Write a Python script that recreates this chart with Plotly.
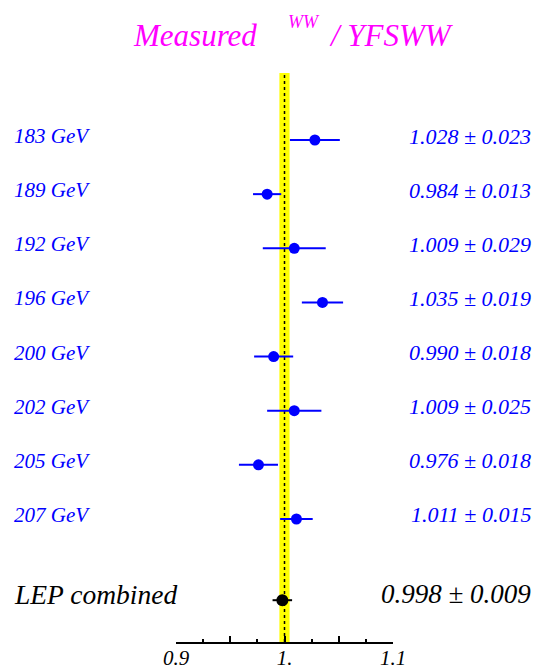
import plotly.graph_objects as go

energies = ["183 GeV", "189 GeV", "192 GeV", "196 GeV", "200 GeV", "202 GeV", "205 GeV", "207 GeV"]
ratios = [1.028, 0.984, 1.009, 1.035, 0.990, 1.009, 0.976, 1.011]
errors = [0.023, 0.013, 0.029, 0.019, 0.018, 0.025, 0.018, 0.015]
comb_label = "LEP combined"
comb_value = 0.998
comb_error = 0.009
band_half = 0.0047
tick_vals = [0.9, 0.95, 1.0, 1.05, 1.1]
tick_text = ["0.9", "", "1.", "", "1.1"]

ypos = [8 - i for i in range(len(energies))]
y_comb = -0.5

FONT = "Liberation Serif"
W, H = 539, 672
L, R, T, B = 176, 146, 73, 30
pw, ph = W - L - R, H - T - B

def px2paper_x(px):
    return (px - L) / pw

def px2paper_y(py):
    return (H - B - py) / ph

fig = go.Figure()

fig.add_trace(go.Scatter(
    x=ratios, y=ypos, mode="markers",
    marker=dict(color="#0000ff", size=11),
    error_x=dict(type="data", array=errors, color="#0000ff", thickness=2, width=0),
    showlegend=False, cliponaxis=False,
))
fig.add_trace(go.Scatter(
    x=[comb_value], y=[y_comb], mode="markers",
    marker=dict(color="black", size=12),
    error_x=dict(type="data", array=[comb_error], color="black", thickness=2, width=0),
    showlegend=False, cliponaxis=False,
))

shapes = [
    dict(type="rect", xref="x", yref="paper", x0=1.0 - band_half, x1=1.0 + band_half,
         y0=0, y1=1, fillcolor="#ffff00", line=dict(width=0), layer="below"),
    dict(type="line", xref="x", yref="paper", x0=1.0, x1=1.0, y0=0, y1=1,
         line=dict(color="black", width=1.5, dash="3px,3px"), layer="below"),
]

annotations = []
for lab, v, e, y in zip(energies, ratios, errors, ypos):
    annotations.append(dict(text=lab, xref="paper", yref="y", x=px2paper_x(12), y=y,
                            xanchor="left", yanchor="middle", yshift=4, showarrow=False,
                            font=dict(family=FONT, size=21, color="#0000ff", style="italic")))
    annotations.append(dict(text=f"{v:.3f} ± {e:.3f}", xref="paper", yref="y", x=px2paper_x(533), y=y,
                            xanchor="right", yanchor="middle", yshift=4, showarrow=False,
                            font=dict(family=FONT, size=22, color="#0000ff", style="italic")))
annotations.append(dict(text=comb_label, xref="paper", yref="y", x=px2paper_x(12), y=y_comb,
                        xanchor="left", yanchor="middle", yshift=6, showarrow=False,
                        font=dict(family=FONT, size=27.5, color="black", style="italic")))
annotations.append(dict(text=f"{comb_value:.3f} ± {comb_error:.3f}", xref="paper", yref="y",
                        x=px2paper_x(533), y=y_comb, xanchor="right", yanchor="middle", yshift=6,
                        showarrow=False, font=dict(family=FONT, size=27, color="black", style="italic")))

title_font = dict(family=FONT, size=31, color="#ff00ff", style="italic")
annotations.append(dict(text="Measured", xref="paper", yref="paper", x=px2paper_x(131), y=px2paper_y(36),
                        xanchor="left", yanchor="middle", showarrow=False, font=title_font))
annotations.append(dict(text="WW", xref="paper", yref="paper", x=px2paper_x(286), y=px2paper_y(22),
                        xanchor="left", yanchor="middle", showarrow=False,
                        font=dict(family=FONT, size=18, color="#ff00ff", style="italic")))
annotations.append(dict(text="/ YFSWW", xref="paper", yref="paper", x=px2paper_x(327), y=px2paper_y(36),
                        xanchor="left", yanchor="middle", showarrow=False, font=title_font))

fig.update_layout(
    template="none",
    width=W, height=H,
    margin=dict(l=L, r=R, t=T, b=B, pad=0, autoexpand=False),
    paper_bgcolor="white", plot_bgcolor="white",
    shapes=shapes, annotations=annotations,
    xaxis=dict(range=[0.9, 1.1], showgrid=False, zeroline=False, automargin=False,
               showline=True, linecolor="black", linewidth=1.5,
               ticks="inside", ticklen=6, tickwidth=1.5, tickcolor="black",
               tickvals=tick_vals, ticktext=tick_text, ticklabelstandoff=-4,
               tickfont=dict(family=FONT, size=21, color="black", style="italic"),
               minor=dict(ticks="inside", ticklen=3, tickwidth=1.5, tickcolor="black",
                          tickvals=[0.925, 0.975, 1.025, 1.075]),
               fixedrange=True),
    yaxis=dict(range=[-1.272, 9.2375], visible=False, automargin=False, fixedrange=True),
)

fig.write_html("out.html", config={"displayModeBar": False})

with open("out.html", "r", encoding="utf-8") as f:
    html = f.read()
html = html.replace("<head>", "<head><style>html,body{margin:0;padding:0;overflow:hidden;}</style>", 1)
with open("out.html", "w", encoding="utf-8") as f:
    f.write(html)
